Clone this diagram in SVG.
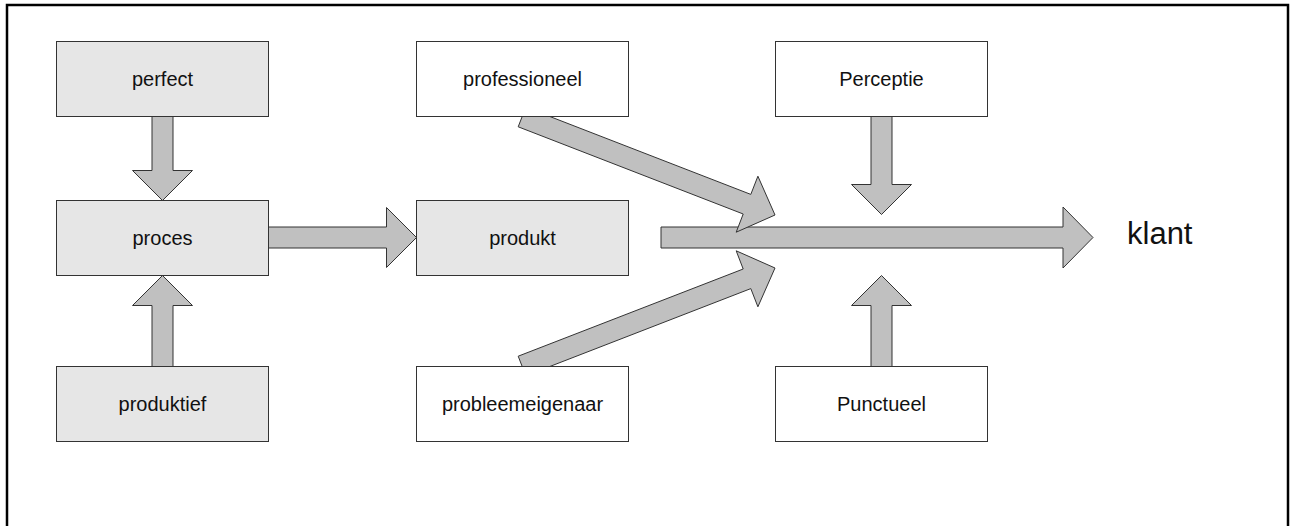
<svg xmlns="http://www.w3.org/2000/svg" width="1293" height="526" viewBox="0 0 1293 526">
  <style>
    .box { stroke: #333; stroke-width: 1; }
    .grey { fill: #e6e6e6; }
    .white { fill: #ffffff; }
    .arrow { fill: #c0c0c0; stroke: #333; stroke-width: 1; stroke-linejoin: miter; }
    .label { font-family: "Liberation Sans", Arial, sans-serif; font-size: 20px; fill: #111; text-anchor: middle; dominant-baseline: central; }
    .big { font-family: "Liberation Sans", Arial, sans-serif; font-size: 31px; fill: #111; }
  </style>
  <rect width="1293" height="526" fill="#ffffff"/>
  <!-- outer frame, open at the bottom edge of the page -->
  <rect x="7" y="5" width="1281" height="600" fill="none" stroke="#000" stroke-width="2.5"/>

  <!-- block arrows -->
  <g id="connectors">
    <!-- main flow to klant -->
    <polygon class="arrow" points="661,227 1063,227 1063,207 1093,237.5 1063,268 1063,248 661,248"/>
    <!-- perfect -> proces -->
    <polygon class="arrow" points="152,116.5 173,116.5 173,170.5 192.5,170.5 162.5,200.5 132.5,170.5 152,170.5"/>
    <!-- produktief -> proces -->
    <polygon class="arrow" points="152,366.5 173,366.5 173,305.5 192.5,305.5 162.5,275.5 132.5,305.5 152,305.5"/>
    <!-- proces -> produkt -->
    <polygon class="arrow" points="268.5,227 386.5,227 386.5,207.5 416.5,237.5 386.5,267.5 386.5,248 268.5,248"/>
    <!-- Perceptie -> main flow -->
    <polygon class="arrow" points="871,116.5 892,116.5 892,184.5 911.5,184.5 881.5,214.5 851.5,184.5 871,184.5"/>
    <!-- Punctueel -> main flow -->
    <polygon class="arrow" points="871,366.5 892,366.5 892,305.5 911.5,305.5 881.5,275.5 851.5,305.5 871,305.5"/>
    <!-- professioneel -> main flow -->
    <polygon class="arrow" points="525.8,107.2 750.8,194.4 757.9,176.2 775,215 736.2,232.2 743.2,214 518.2,126.8"/>
    <!-- probleemeigenaar -> main flow -->
    <polygon class="arrow" points="525.8,375.8 750.8,288.6 757.9,306.8 775,268 736.2,250.8 743.2,269 518.2,356.2"/>
  </g>

  <g id="perfect">
    <rect class="box grey" x="56.5" y="41.5" width="212" height="75"/>
    <text class="label" x="162.5" y="79">perfect</text>
  </g>
  <g id="proces">
    <rect class="box grey" x="56.5" y="200.5" width="212" height="75"/>
    <text class="label" x="162.5" y="238">proces</text>
  </g>
  <g id="produktief">
    <rect class="box grey" x="56.5" y="366.5" width="212" height="75"/>
    <text class="label" x="162.5" y="404">produktief</text>
  </g>
  <g id="professioneel">
    <rect class="box white" x="416.5" y="41.5" width="212" height="75"/>
    <text class="label" x="522.5" y="79">professioneel</text>
  </g>
  <g id="produkt">
    <rect class="box grey" x="416.5" y="200.5" width="212" height="75"/>
    <text class="label" x="522.5" y="238">produkt</text>
  </g>
  <g id="probleemeigenaar">
    <rect class="box white" x="416.5" y="366.5" width="212" height="75"/>
    <text class="label" x="522.5" y="404">probleemeigenaar</text>
  </g>
  <g id="perceptie">
    <rect class="box white" x="775.5" y="41.5" width="212" height="75"/>
    <text class="label" x="881.5" y="79">Perceptie</text>
  </g>
  <g id="punctueel">
    <rect class="box white" x="775.5" y="366.5" width="212" height="75"/>
    <text class="label" x="881.5" y="404">Punctueel</text>
  </g>
  <g id="klant">
    <text class="big" x="1127" y="244">klant</text>
  </g>
</svg>
